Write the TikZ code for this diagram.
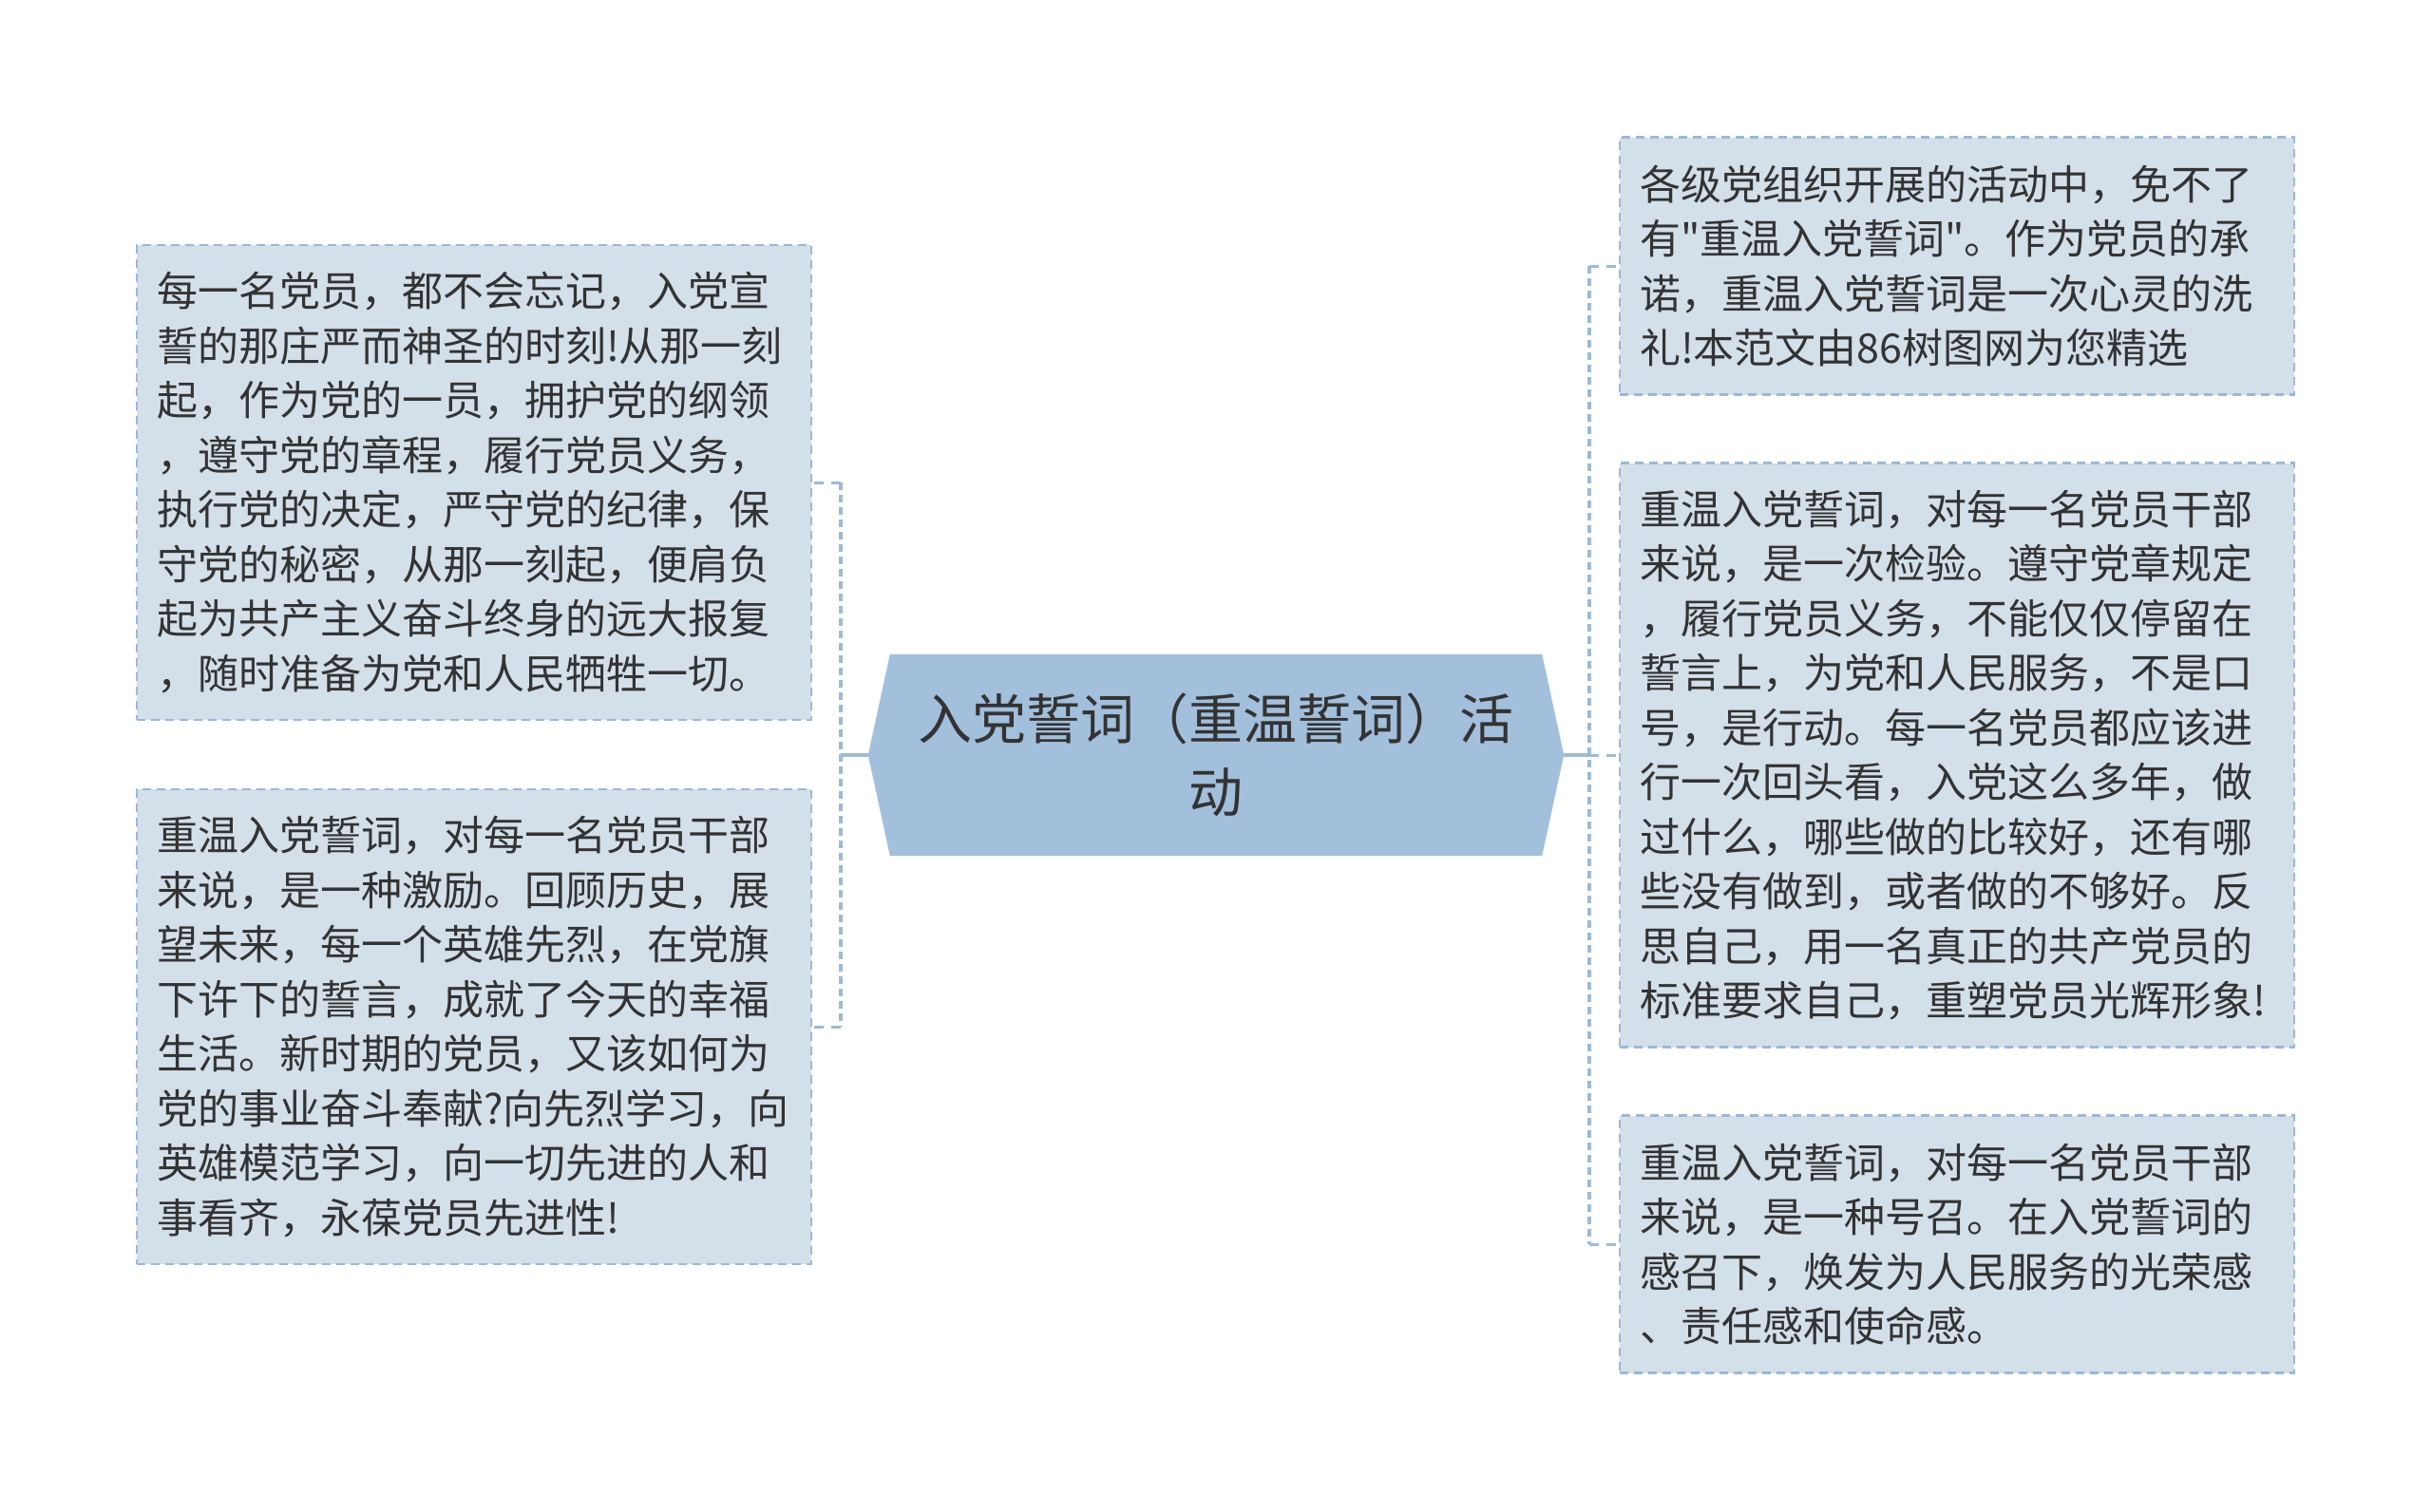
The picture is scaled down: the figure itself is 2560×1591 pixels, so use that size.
\documentclass[tikz,border=0pt]{standalone}
\usepackage{fontspec}
\newfontfamily\cjkfont{Noto Sans CJK SC}
\usetikzlibrary{backgrounds}
\setlength{\parindent}{0pt}

\definecolor{boxfill}{HTML}{D3DFE9}
\definecolor{boxline}{HTML}{9CB8D5}
\definecolor{rootfill}{HTML}{A2BFDC}
\definecolor{linkline}{HTML}{9DBAD7}
\definecolor{textgray}{HTML}{333333}

\tikzset{%
        topic box/.style={
            draw=boxline,
            fill=boxfill,
            line width=2.5pt,
            dash pattern=on 9pt off 6pt,
            text=textgray,
            font=\cjkfont\fontsize{43}{57.5}\selectfont,
            align=left,
            text width=668pt,
            inner xsep=21pt,
            inner ysep=0pt,
            minimum width=710pt
        },
        root box/.style={
            text=textgray,
            font=\cjkfont\fontsize{57}{77}\selectfont,
            align=center,
            inner sep=0pt,
            minimum width=686pt,
            minimum height=212pt
        },
        trunk/.style={
            draw=linkline,
            line width=4pt
        },
        spine/.style={
            draw=linkline,
            line width=4.5pt,
            dash pattern=on 8pt off 5pt
        },
        branch/.style={
            draw=linkline,
            line width=3pt,
            dash pattern=on 10pt off 8pt
        },
    }

\begin{document}
\begin{tikzpicture}[x=1pt, y=-1pt]
        \useasboundingbox (0,0) rectangle (2560,1591);

        % centre topic
        \node [root box] (root) at (1280,795) {入党誓词（重温誓词）活\\动};
        \coordinate (root-w) at ([xshift=-23pt]root.west);
        \coordinate (root-e) at ([xshift=23pt]root.east);
        \begin{scope}[on background layer]
            \fill [rootfill] (root.north west) -- (root.north east) -- (root-e)
                -- (root.south east) -- (root.south west) -- (root-w) -- cycle;
        \end{scope}

        % left topics
        \node [topic box, minimum height=500pt] (left-1) at (499,508) {%
每一名党员，都不会忘记，入党宣\\
誓的那庄严而神圣的时刻!从那一刻\\
起，作为党的一员，拥护党的纲领\\
，遵守党的章程，履行党员义务，\\
执行党的决定，严守党的纪律，保\\
守党的秘密，从那一刻起，便肩负\\
起为共产主义奋斗终身的远大报复\\
，随时准备为党和人民牺牲一切。};

        \node [topic box, minimum height=500pt] (left-2) at (499,1081) {%
重温入党誓词，对每一名党员干部\\
来说，是一种激励。回顾历史，展\\
望未来，每一个英雄先烈，在党旗\\
下许下的誓言，成就了今天的幸福\\
生活。新时期的党员，又该如何为\\
党的事业奋斗奉献?向先烈学习，向\\
英雄模范学习，向一切先进的人和\\
事看齐，永葆党员先进性!};

        % right topics
        \node [topic box, minimum height=271pt] (right-1) at (2060,280) {%
各级党组织开展的活动中，免不了\\
有"重温入党誓词"。作为党员的承\\
诺，重温入党誓词是一次心灵的洗\\
礼!本范文由86树图网为您精选};

        \node [topic box, minimum height=615pt] (right-2) at (2060,795) {%
重温入党誓词，对每一名党员干部\\
来说，是一次检验。遵守党章规定\\
，履行党员义务，不能仅仅停留在\\
誓言上，为党和人民服务，不是口\\
号，是行动。每一名党员都应该进\\
行一次回头看，入党这么多年，做\\
过什么，哪些做的比较好，还有哪\\
些没有做到，或者做的不够好。反\\
思自己，用一名真正的共产党员的\\
标准要求自己，重塑党员光辉形象!};

        \node [topic box, minimum height=271pt] (right-3) at (2060,1310) {%
重温入党誓词，对每一名党员干部\\
来说，是一种号召。在入党誓词的\\
感召下，焕发为人民服务的光荣感\\
、责任感和使命感。};

        % connectors
        \coordinate (hub-l) at (885,795);
        \coordinate (hub-r) at (1673,795);
        \draw [trunk] (root-w) -- (hub-l);
        \draw [trunk] (root-e) -- (hub-r);
        \draw [spine] (hub-l |- left-1.east) -- (hub-l |- left-2.east);
        \draw [spine] (hub-r |- right-1.west) -- (hub-r |- right-3.west);

        \foreach \i in {1,2}
        \draw [branch] (hub-l |- left-\i.east) -- (left-\i.east);

        \foreach \i in {1,2,3}
        \draw [branch] (hub-r |- right-\i.west) -- (right-\i.west);
\end{tikzpicture}
\end{document}
